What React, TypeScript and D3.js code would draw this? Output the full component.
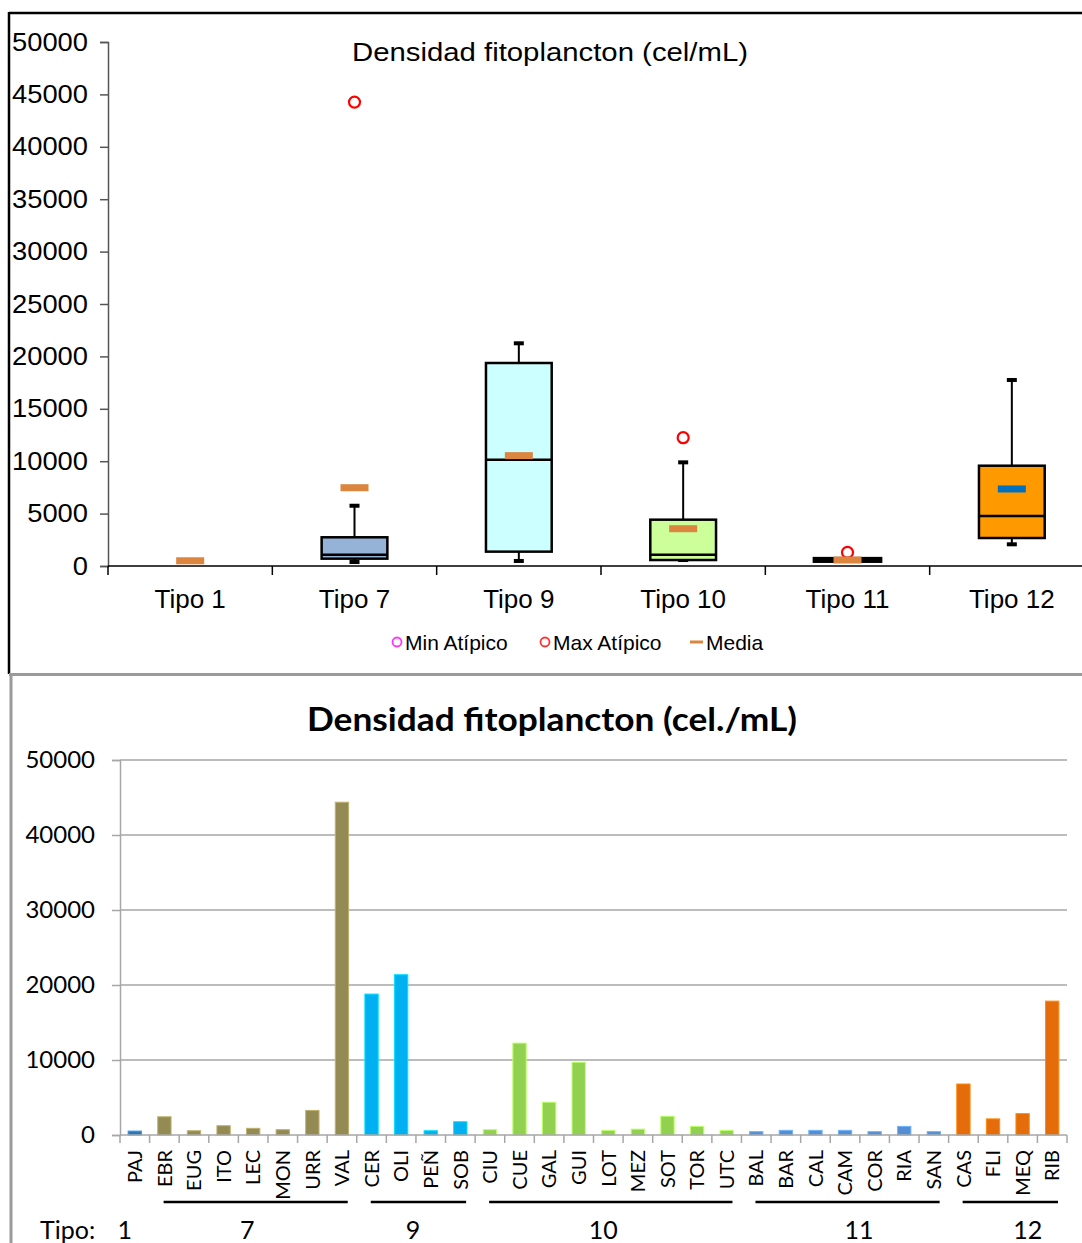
import React, { useEffect, useRef } from 'react';
import * as d3 from 'd3';

// ---- top chart: box plot per tipo ----
const tipos = ['Tipo 1', 'Tipo 7', 'Tipo 9', 'Tipo 10', 'Tipo 11', 'Tipo 12'];
const whiskerLow = [null, 380, 480, 570, 480, 2070];
const boxQ1 = [null, 700, 1370, 570, 480, 2670];
const boxMedian = [null, 1080, 10150, 1080, 560, 4770];
const boxQ3 = [null, 2740, 19370, 4420, 680, 9570];
const whiskerHigh = [null, 5750, 21250, 9890, 680, 17750];
const means = [500, 7470, 10530, 3560, 570, 7350];
const maxOutliers = [null, 44270, null, 12240, 1300, null];
const boxFills = ['none', '#95b3d7', '#ccffff', '#ccff99', '#000000', '#ff9900'];
const meanColors = ['#dc853f', '#dc853f', '#dc853f', '#dc853f', '#dc853f', '#0070c0'];
const topTicks = [0, 5000, 10000, 15000, 20000, 25000, 30000, 35000, 40000, 45000, 50000];

// ---- bottom chart: density per site ----
const sites = [
  'PAJ',
  'EBR', 'EUG', 'ITO', 'LEC', 'MON', 'URR', 'VAL',
  'CER', 'OLI', 'PEÑ', 'SOB',
  'CIU', 'CUE', 'GAL', 'GUI', 'LOT', 'MEZ', 'SOT', 'TOR', 'UTC',
  'BAL', 'BAR', 'CAL', 'CAM', 'COR', 'RIA', 'SAN',
  'CAS', 'FLI', 'MEQ', 'RIB'
];
const siteValues = [
  520,
  2430, 570, 1240, 890, 710, 3280, 44370,
  18790, 21370, 570, 1770,
  710, 12250, 4370, 9700, 620, 780, 2500, 1150, 620,
  450, 620, 620, 620, 450, 1150, 450,
  6800, 2150, 2850, 17850
];
const siteGroup = [
  '1',
  '7', '7', '7', '7', '7', '7', '7',
  '9', '9', '9', '9',
  '10', '10', '10', '10', '10', '10', '10', '10', '10',
  '11', '11', '11', '11', '11', '11', '11',
  '12', '12', '12', '12'
];
const groups = ['1', '7', '9', '10', '11', '12'];
const groupColors = ['#2e75b6', '#948a54', '#00b0f0', '#92d050', '#558ed5', '#e46c0a'];
const groupLabelShift = [-10, -6, -3, -5, 14, 20];
const bottomTicks = [0, 10000, 20000, 30000, 40000, 50000];

export default function App() {
  const svgRef = useRef<SVGSVGElement>(null);

  useEffect(() => {
    if (!svgRef.current) return;
    const svg = d3.select(svgRef.current);
    svg.selectAll('*').remove();

    const arial = '"Liberation Sans", Arial, sans-serif';
    const calibri = 'Lato, "Open Sans", sans-serif';

    // frames
    svg.append('line').attr('x1', 9).attr('x2', 1082).attr('y1', 13).attr('y2', 13)
      .attr('stroke', '#000').attr('stroke-width', 2.5);
    svg.append('line').attr('x1', 9).attr('x2', 9).attr('y1', 12).attr('y2', 674)
      .attr('stroke', '#000').attr('stroke-width', 2.5);
    svg.append('line').attr('x1', 9).attr('x2', 1082).attr('y1', 674.5).attr('y2', 674.5)
      .attr('stroke', '#9a9a9a').attr('stroke-width', 3);
    svg.append('line').attr('x1', 11).attr('x2', 11).attr('y1', 674).attr('y2', 1243)
      .attr('stroke', '#9a9a9a').attr('stroke-width', 3);

    // ================= top chart =================
    const top = svg.append('g');
    const yT = d3.scaleLinear().domain([0, 50000]).range([566, 42]);
    const xT = d3.scaleBand().domain(tipos).range([108, 1094]);
    const boxW = xT.bandwidth() * 0.4;

    top.append('text')
      .attr('x', 550).attr('y', 61)
      .attr('text-anchor', 'middle')
      .attr('font-family', arial).attr('font-size', 26)
      .attr('textLength', 396).attr('lengthAdjust', 'spacingAndGlyphs')
      .attr('fill', '#000')
      .text('Densidad fitoplancton (cel/mL)');

    const yAxisT = top.append('g')
      .attr('transform', 'translate(108,0)')
      .call(d3.axisLeft(yT).tickValues(topTicks).tickSize(8).tickPadding(12).tickFormat(d3.format('d')));
    yAxisT.select('.domain').attr('stroke', '#555').attr('stroke-width', 1.5);
    yAxisT.selectAll('.tick line').attr('stroke', '#555').attr('stroke-width', 1.5);
    yAxisT.selectAll<SVGTextElement, number>('.tick text')
      .attr('font-family', arial).attr('font-size', 25).attr('fill', '#000')
      .attr('textLength', d => String(d).length * 15.2)
      .attr('lengthAdjust', 'spacingAndGlyphs');

    // x axis with boundary ticks
    top.append('line').attr('x1', 108).attr('x2', 1094).attr('y1', yT(0)).attr('y2', yT(0))
      .attr('stroke', '#000').attr('stroke-width', 1.5);
    const bounds = tipos.map(t => xT(t)!).concat([xT.range()[1]]);
    top.selectAll('.xtick').data(bounds).join('line')
      .attr('x1', d => d).attr('x2', d => d)
      .attr('y1', yT(0)).attr('y2', yT(0) + 9)
      .attr('stroke', '#000').attr('stroke-width', 1.5);
    top.selectAll('.xlabel').data(tipos).join('text')
      .attr('x', d => xT(d)! + xT.bandwidth() / 2)
      .attr('y', 608)
      .attr('text-anchor', 'middle')
      .attr('font-family', arial).attr('font-size', 26).attr('fill', '#000')
      .text(d => d);

    tipos.forEach((t, i) => {
      const cx = xT(t)! + xT.bandwidth() / 2;
      const g = top.append('g');
      if (boxQ1[i] !== null) {
        // whisker
        g.append('line')
          .attr('x1', cx).attr('x2', cx)
          .attr('y1', yT(whiskerLow[i]!)).attr('y2', yT(whiskerHigh[i]!))
          .attr('stroke', '#000').attr('stroke-width', 2);
        [whiskerLow[i]!, whiskerHigh[i]!].forEach(v => {
          g.append('rect')
            .attr('x', cx - 5).attr('y', yT(v) - 2)
            .attr('width', 10).attr('height', 4)
            .attr('fill', '#000');
        });
        const yTop = yT(boxQ3[i]!);
        const yBot = yT(boxQ1[i]!);
        g.append('rect')
          .attr('x', cx - boxW / 2).attr('y', yTop)
          .attr('width', boxW).attr('height', Math.max(yBot - yTop, 1))
          .attr('fill', boxFills[i])
          .attr('stroke', '#000').attr('stroke-width', i === 4 ? 4 : 2.5);
        g.append('line')
          .attr('x1', cx - boxW / 2).attr('x2', cx + boxW / 2)
          .attr('y1', yT(boxMedian[i]!)).attr('y2', yT(boxMedian[i]!))
          .attr('stroke', '#000').attr('stroke-width', 2.5);
      }
      if (maxOutliers[i] !== null) {
        g.append('circle')
          .attr('cx', cx).attr('cy', yT(maxOutliers[i]!))
          .attr('r', 5.5)
          .attr('fill', 'none').attr('stroke', '#ff0000').attr('stroke-width', 2.2);
      }
      g.append('rect')
        .attr('x', cx - 14).attr('y', yT(means[i]) - 3.5)
        .attr('width', 28).attr('height', 7)
        .attr('fill', meanColors[i]);
    });

    // legend
    const leg = top.append('g').attr('font-family', arial).attr('font-size', 21).attr('fill', '#000');
    leg.append('circle').attr('cx', 397).attr('cy', 642).attr('r', 4.5)
      .attr('fill', 'none').attr('stroke', '#ff33ff').attr('stroke-width', 1.8);
    leg.append('text').attr('x', 405).attr('y', 649.5).text('Min Atípico');
    leg.append('circle').attr('cx', 545).attr('cy', 642).attr('r', 4.5)
      .attr('fill', 'none').attr('stroke', '#ff3333').attr('stroke-width', 1.8);
    leg.append('text').attr('x', 553).attr('y', 649.5).text('Max Atípico');
    leg.append('rect').attr('x', 690).attr('y', 640.5).attr('width', 13).attr('height', 3)
      .attr('fill', '#dc853f');
    leg.append('text').attr('x', 706).attr('y', 649.5).text('Media');

    // ================= bottom chart =================
    const bot = svg.append('g');
    const yB = d3.scaleLinear().domain([0, 50000]).range([1135, 760]);
    const xB = d3.scaleBand().domain(sites).range([120, 1067]).paddingInner(0.55).paddingOuter(0.275);
    const xStep = d3.scaleBand().domain(sites).range([120, 1067]);
    const color = d3.scaleOrdinal<string, string>().domain(groups).range(groupColors);

    bot.append('text')
      .attr('x', 552).attr('y', 731)
      .attr('text-anchor', 'middle')
      .attr('font-family', calibri).attr('font-size', 32).attr('font-weight', 'bold')
      .attr('textLength', 490).attr('lengthAdjust', 'spacingAndGlyphs')
      .attr('fill', '#000')
      .text('Densidad fitoplancton (cel./mL)');

    // gridlines
    bot.selectAll('.grid').data(bottomTicks.filter(d => d > 0)).join('line')
      .attr('x1', 120).attr('x2', 1067)
      .attr('y1', d => yB(d)).attr('y2', d => yB(d))
      .attr('stroke', '#a6a6a6').attr('stroke-width', 1.5);

    const yAxisB = bot.append('g')
      .attr('transform', 'translate(120,0)')
      .call(d3.axisLeft(yB).tickValues(bottomTicks).tickSize(8).tickPadding(17).tickFormat(d3.format('d')));
    yAxisB.select('.domain').attr('stroke', '#a6a6a6').attr('stroke-width', 1.5);
    yAxisB.selectAll('.tick line').attr('stroke', '#a6a6a6').attr('stroke-width', 1.5);
    yAxisB.selectAll('.tick text')
      .attr('font-family', calibri).attr('font-size', 24).attr('fill', '#000');

    // bars
    bot.selectAll('.bar').data(sites).join('rect')
      .attr('x', d => xB(d)!)
      .attr('y', (d, i) => yB(siteValues[i]))
      .attr('width', xB.bandwidth())
      .attr('height', (d, i) => yB(0) - yB(siteValues[i]))
      .attr('fill', (d, i) => color(siteGroup[i]))
      .attr('stroke', (d, i) => d3.color(color(siteGroup[i]))!.brighter(0.7).formatHex())
      .attr('stroke-width', 1);

    // x axis + ticks between categories
    bot.append('line').attr('x1', 120).attr('x2', 1067).attr('y1', yB(0)).attr('y2', yB(0))
      .attr('stroke', '#a6a6a6').attr('stroke-width', 1.5);
    const bBounds = sites.map(s => xStep(s)!).concat([xStep.range()[1]]);
    bot.selectAll('.btick').data(bBounds).join('line')
      .attr('x1', d => d).attr('x2', d => d)
      .attr('y1', yB(0)).attr('y2', yB(0) + 8)
      .attr('stroke', '#a6a6a6').attr('stroke-width', 1.5);

    bot.selectAll('.slabel').data(sites).join('text')
      .attr('transform', d => `translate(${xStep(d)! + xStep.bandwidth() / 2},1150) rotate(-90)`)
      .attr('dy', '0.36em')
      .attr('text-anchor', 'end')
      .attr('font-family', calibri).attr('font-size', 20).attr('fill', '#000')
      .text(d => d);

    // group brackets
    const gLab = bot.append('g').attr('font-family', calibri).attr('font-size', 25).attr('fill', '#000');
    gLab.append('text').attr('x', 40).attr('y', 1239).text('Tipo:');
    groups.forEach((g, gi) => {
      const members = sites.filter((s, i) => siteGroup[i] === g);
      const x0 = xStep(members[0])!;
      const x1 = xStep(members[members.length - 1])! + xStep.bandwidth();
      if (members.length > 1) {
        bot.append('line')
          .attr('x1', x0 + 14).attr('x2', x1 - 9)
          .attr('y1', 1202).attr('y2', 1202)
          .attr('stroke', '#000').attr('stroke-width', 2.5);
      }
      gLab.append('text')
        .attr('x', (x0 + x1) / 2 + groupLabelShift[gi])
        .attr('y', 1239)
        .attr('text-anchor', 'middle')
        .text(g);
    });
  }, []);

  return (
    <svg
      ref={svgRef}
      width={1082}
      height={1243}
      style={{ position: 'absolute', left: 0, top: 0, background: '#fff' }}
    />
  );
}
